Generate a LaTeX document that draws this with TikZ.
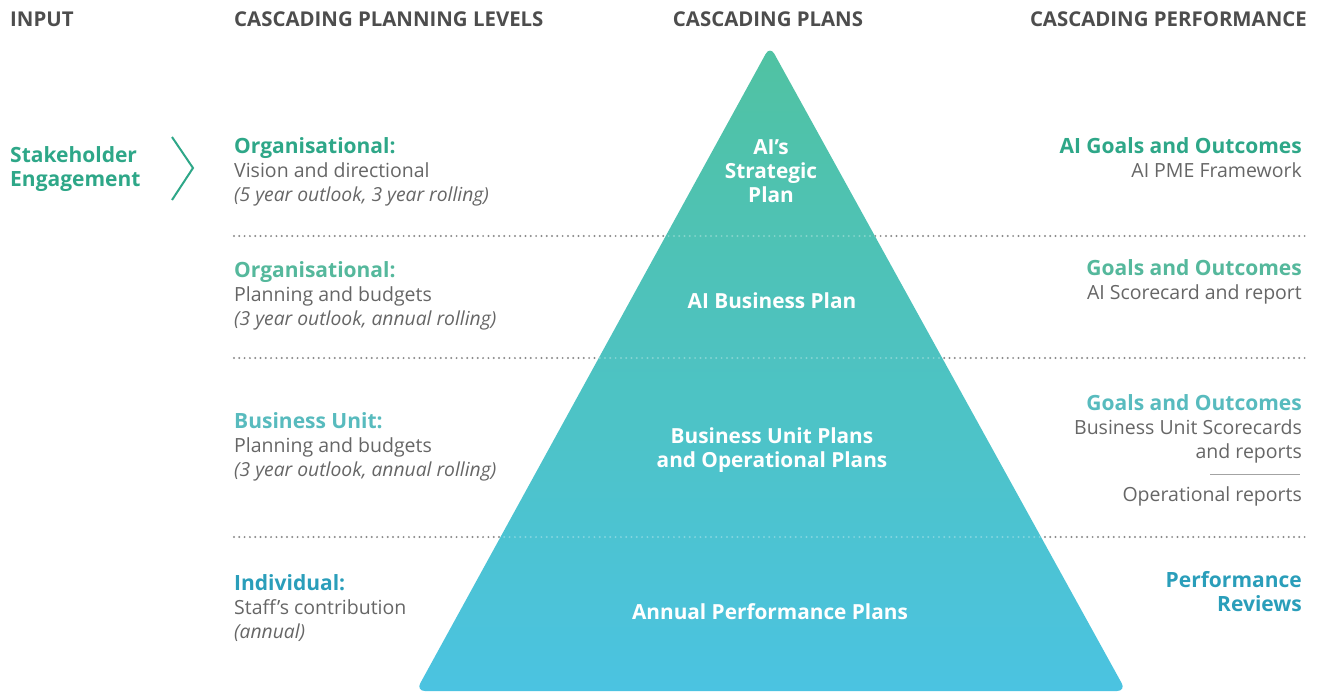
\documentclass[tikz,border=0pt]{standalone}
\usepackage{fontspec}
\setmainfont{Open Sans}
\usetikzlibrary{positioning}

\definecolor{headgray}{HTML}{4D4D4D}
\definecolor{bodygray}{HTML}{666666}
\definecolor{dotgray}{HTML}{8A8A8A}
\definecolor{greenA}{HTML}{2EA788}
\definecolor{greenB}{HTML}{55B89C}
\definecolor{tealC}{HTML}{58BBBE}
\definecolor{blueD}{HTML}{2A9EBA}
\definecolor{tritop}{HTML}{50C2A2}
\definecolor{trimid}{HTML}{45B8BC}
\definecolor{tribot}{HTML}{4BC3E1}

\begin{document}
\begin{tikzpicture}[x=1pt, y=-1pt,
     node distance = 0pt and 0pt,
       head/.style = {font=\fontsize{20.4}{24}\selectfont\bfseries, text=headgray, inner sep=0pt},
        ttl/.style = {font=\fontsize{21}{24}\selectfont\bfseries, inner xsep=0pt, inner ysep=2pt,
                      text height=15pt, text depth=5pt},
        txt/.style = {font=\fontsize{19.5}{24}\selectfont, text=bodygray, inner xsep=0pt, inner ysep=2pt,
                      text height=15pt, text depth=5pt},
       note/.style = {txt, font=\fontsize{19.3}{24}\selectfont\itshape},
       plan/.style = {font=\fontsize{20.8}{24}\selectfont\bfseries, text=white, align=center},
        sep/.style = {line width=2.2pt, line cap=round, dash pattern=on 0pt off 5.3pt}
                    ]
\useasboundingbox (0,0) rectangle (1319,691);

% column heads
\node (hin)   [head, anchor=base west] at (10,26)   {INPUT};
\node (hlev)  [head, anchor=base west] at (234,26)  {CASCADING PLANNING LEVELS};
\node (hplan) [head, anchor=base]      at (768,26)  {CASCADING PLANS};
\node (hperf) [head, anchor=base east] at (1307,26) {CASCADING PERFORMANCE};

% separators
\coordinate (s1w) at (234,236); \coordinate (s1e) at (1306,236);
\coordinate (s2w) at (234,358); \coordinate (s2e) at (1306,358);
\coordinate (s3w) at (234,537); \coordinate (s3e) at (1306,537);
\draw[sep, dotgray] (s1w) -- (s1e) (s2w) -- (s2e) (s3w) -- (s3e);

% pyramid
\shade[top color=tritop, middle color=trimid, bottom color=tribot, rounded corners=9pt]
    (770,46) -- (1126,691) -- (416,691) -- cycle;
\begin{scope}
\clip (770,46) -- (1126,691) -- (416,691) -- cycle;
\draw[sep, white, opacity=.3] (s1w) -- (s1e) (s2w) -- (s2e) (s3w) -- (s3e);
\end{scope}

\node (strat) [plan] at (771,171) {AI’s\\Strategic\\Plan};
\node (bplan) [plan] at (772,301) {AI Business Plan};
\node (uplan) [plan] at (772,450) {Business Unit Plans\\and Operational Plans};
\node (aplan) [plan] at (770,612) {Annual Performance Plans};

% input
\node (stake) [ttl, text=greenA, anchor=base west] at (10,162) {Stakeholder};
\node (engag) [ttl, text=greenA, below=0pt of stake.south west, anchor=north west] {Engagement};
\draw[greenA, line width=2pt] (172,137) -- (193,168) -- (172,200);

% planning levels
\node (org1)  [ttl, text=greenA, anchor=base west] at (234,153) {Organisational:};
\node (org1a) [txt, below=0pt of org1.south west, anchor=north west]  {Vision and directional};
\node (org1b) [note, below=0pt of org1a.south west, anchor=north west] {(5 year outlook, 3 year rolling)};

\node (org2)  [ttl, text=greenB, anchor=base west] at (234,277) {Organisational:};
\node (org2a) [txt, below=0pt of org2.south west, anchor=north west]  {Planning and budgets};
\node (org2b) [note, below=0pt of org2a.south west, anchor=north west] {(3 year outlook, annual rolling)};

\node (bu)    [ttl, text=tealC, anchor=base west] at (234,428) {Business Unit:};
\node (bua)   [txt, below=0pt of bu.south west, anchor=north west]   {Planning and budgets};
\node (bub)   [note, below=0pt of bua.south west, anchor=north west] {(3 year outlook, annual rolling)};

\node (ind)   [ttl, text=blueD, anchor=base west] at (234,590) {Individual:};
\node (inda)  [txt, below=0pt of ind.south west, anchor=north west]  {Staff’s contribution};
\node (indb)  [note, below=0pt of inda.south west, anchor=north west] {(annual)};

% performance
\node (goal1)  [ttl, text=greenA, anchor=base east] at (1302,153) {AI Goals and Outcomes};
\node (goal1a) [txt, below=0pt of goal1.south east, anchor=north east] {AI PME Framework};

\node (goal2)  [ttl, text=greenB, anchor=base east] at (1302,275) {Goals and Outcomes};
\node (goal2a) [txt, below=0pt of goal2.south east, anchor=north east] {AI Scorecard and report};

\node (goal3)  [ttl, text=tealC, anchor=base east] at (1302,410) {Goals and Outcomes};
\node (goal3a) [txt, below=0pt of goal3.south east, anchor=north east] {Business Unit Scorecards};
\node (goal3b) [txt, below=0pt of goal3a.south east, anchor=north east] {and reports};
\draw[bodygray!60, line width=.8pt] (1210,474) -- (1300,474);
\node (oprep)  [txt, anchor=base east] at (1302,501) {Operational reports};

\node (rev)   [ttl, text=blueD, anchor=base east] at (1302,587) {Performance};
\node (reva)  [ttl, text=blueD, below=0pt of rev.south east, anchor=north east] {Reviews};
\end{tikzpicture}
\end{document}
